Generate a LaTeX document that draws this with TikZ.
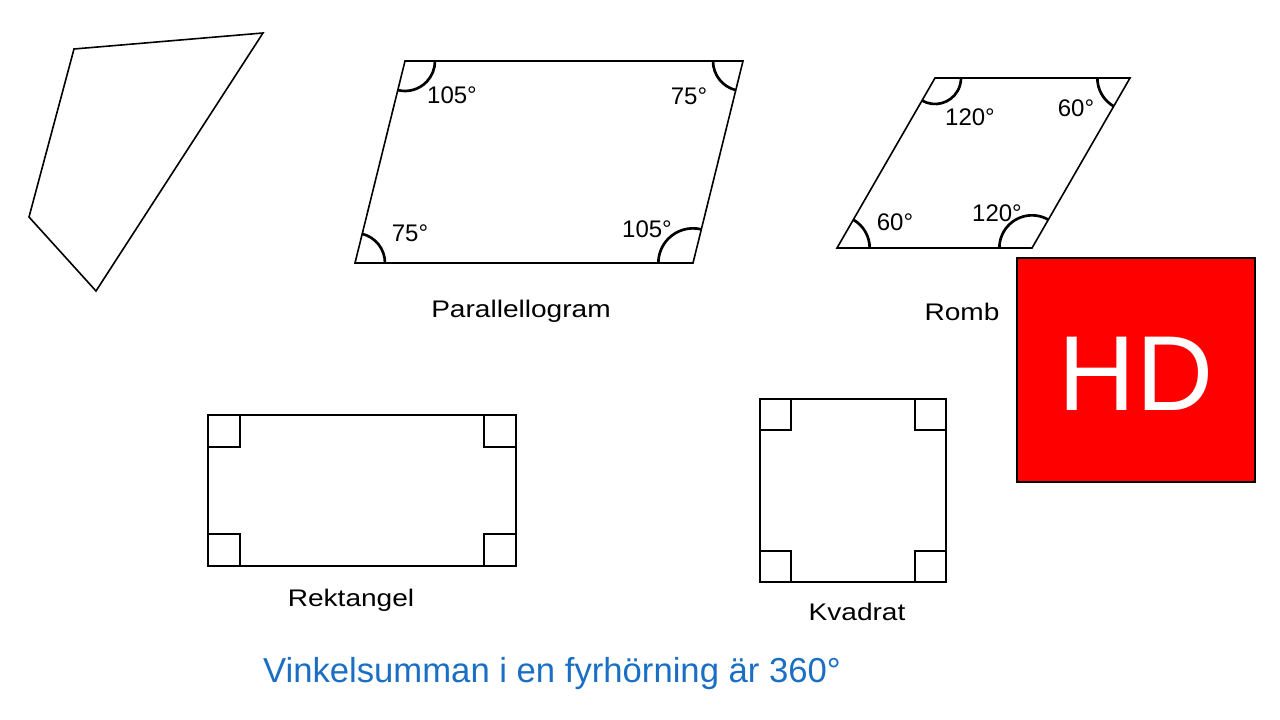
\documentclass[tikz,border=0pt]{standalone}
\usepackage{fontspec}
\setmainfont{Liberation Sans}
\newfontfamily\namefont{Liberation Sans}[FakeStretch=1.17]
\usetikzlibrary{angles}
\definecolor{sumblue}{HTML}{1A6FC4}

\tikzset{
  shape line/.style={line width=1.2pt},
  angle mark/.style={draw, line width=2pt},
  angle text/.style={font=\fontsize{18}{20}\selectfont, inner sep=0pt},
  shape name/.style={font=\namefont\fontsize{18}{20}\selectfont, inner sep=0pt, anchor=base},
}

\begin{document}
\begin{tikzpicture}[x=0.75pt, y=-0.75pt]
\useasboundingbox (0,0) rectangle (1280,720);

% Irregular quadrilateral
\draw[shape line] (74,49) -- (263,33) -- (96,291) -- (29,217) -- cycle;

% Parallelogram
\coordinate (pBL) at (355,263);
\coordinate (pBR) at (693,263);
\coordinate (pTR) at (743,61);
\coordinate (pTL) at (405,61);
\draw[shape line] (pBL) -- (pBR) -- (pTR) -- (pTL) -- cycle;
\pic[angle mark, angle radius=22.5pt] {angle = pBR--pBL--pTL};
\pic[angle mark, angle radius=26pt] {angle = pTR--pBR--pBL};
\pic[angle mark, angle radius=22.5pt] {angle = pTL--pTR--pBR};
\pic[angle mark, angle radius=22.5pt] {angle = pBL--pTL--pTR};
\node[angle text] (par105a) at (452,95) {105°}; % top left
\node[angle text] (par75a) at (689,96) {75°}; % top right
\node[angle text] (par75b) at (410,233) {75°}; % bottom left
\node[angle text] (par105b) at (647,229) {105°}; % bottom right
\node[shape name] (parname) at (521,317) {Parallellogram};

% Rhombus
\coordinate (rBL) at (837,248);
\coordinate (rBR) at (1032,248);
\coordinate (rTR) at (1130,78);
\coordinate (rTL) at (935,78);
\draw[shape line] (rBL) -- (rBR) -- (rTR) -- (rTL) -- cycle;
\pic[angle mark, angle radius=24.5pt] {angle = rBR--rBL--rTL};
\pic[angle mark, angle radius=24.5pt] {angle = rTR--rBR--rBL};
\pic[angle mark, angle radius=24.5pt] {angle = rTL--rTR--rBR};
\pic[angle mark, angle radius=19.5pt] {angle = rBL--rTL--rTR};
\node[angle text] (rom120a) at (970,117) {120°};
\node[angle text] (rom60a) at (1076,108) {60°};
\node[angle text] (rom60b) at (895,222) {60°};
\node[angle text] (rom120b) at (997,213) {120°};
\node[shape name] (romname) at (962,320) {Romb};

% Rectangle with right angle marks
\draw[shape line] (208,415) rectangle (516,566);
\draw[shape line] (208,415) rectangle ++(32,32);
\draw[shape line] (516,415) rectangle ++(-32,32);
\draw[shape line] (208,566) rectangle ++(32,-32);
\draw[shape line] (516,566) rectangle ++(-32,-32);
\node[shape name] (rectname) at (351,606) {Rektangel};

% Square with right angle marks
\draw[shape line] (760,399) rectangle (946,582);
\draw[shape line] (760,399) rectangle ++(31,31);
\draw[shape line] (946,399) rectangle ++(-31,31);
\draw[shape line] (760,582) rectangle ++(31,-31);
\draw[shape line] (946,582) rectangle ++(-31,-31);
\node[shape name] (sqname) at (857,620) {Kvadrat};

% HD badge
\draw[fill=red, line width=0.8pt] (1017,258) rectangle (1255,482);
\node[text=white, inner sep=0pt, anchor=base, font=\fontsize{80}{90}\selectfont] (hd) at (1136,410) {HD};

% Angle sum
\node[text=sumblue, inner sep=0pt, anchor=base, font=\fontsize{26}{30}\selectfont] (sumtext) at (552,682) {Vinkelsumman i en fyrhörning är 360°};

\end{tikzpicture}
\end{document}
